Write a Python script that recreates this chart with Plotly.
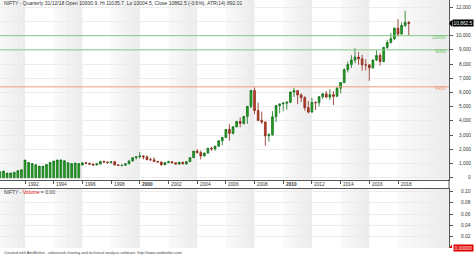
import plotly.graph_objects as go

# ---------------- data ----------------
# quarterly bars: (year, quarter)
start_year, start_q = 1990, 2
# early data (close only -> drawn from 0), 1990Q2 .. 1995Q4
early_close = [420, 470, 330, 340, 390, 500, 560, 1250, 1080, 1000, 920, 820,
               820, 930, 1080, 1180, 1250, 1260, 1200, 1060, 1000, 1040, 1000]
# full OHLC 1996Q1 .. 2018Q4
opens = [908, 1050, 1020, 960, 899, 964, 1155, 1108, 1079, 1130, 904, 872,
         884, 980, 1188, 1413, 1480, 1528, 1471, 1271, 1263, 1148, 1107, 913,
         1059, 1129, 1058, 964, 1093, 978, 1134, 1417, 1879, 1772, 1537, 1745,
         2080, 2035, 2221, 2601, 2837, 3403, 3128, 3588, 3966, 3822, 4318, 5021,
         6138, 4734, 4040, 3921, 2959, 3021, 4291, 5084, 5201, 5249, 5312, 6030,
         6134, 5834, 5647, 4943, 4624, 5296, 5279, 5703, 5905, 5682, 5842, 5735,
         6304, 6704, 7611, 7965, 8283, 8491, 8368, 7949, 7946, 7738, 8288, 8611,
         8186, 9174, 9521, 9789, 10531, 10114, 10714, 10930.9]
highs = [1080, 1140, 1060, 990, 1060, 1160, 1200, 1140, 1170, 1190, 950, 920,
         1040, 1200, 1420, 1490, 1818, 1600, 1580, 1420, 1440, 1190, 1140, 1110,
         1200, 1170, 1070, 1100, 1120, 1150, 1430, 1890, 2014, 1920, 1760, 2090,
         2180, 2230, 2620, 2850, 3430, 3775, 3600, 4000, 4250, 4350, 5060, 6185,
         6357, 5300, 4650, 3960, 3150, 4690, 5090, 5220, 5330, 5400, 6075, 6338,
         6180, 5945, 5740, 5400, 5630, 5380, 5735, 5965, 6111, 6230, 6093, 6415,
         6730, 7700, 8180, 8627, 9119, 8845, 8655, 8336, 7973, 8308, 8969, 8806,
         9219, 9710, 10179, 10553, 11172, 10929, 11760, 11035.7]
lows = [860, 1000, 940, 860, 880, 950, 1080, 980, 1000, 890, 830, 800,
        870, 960, 1150, 1290, 1350, 1290, 1250, 1200, 1100, 1080, 850, 905,
        1040, 1040, 940, 920, 960, 920, 1120, 1400, 1700, 1290, 1500, 1700,
        1900, 1900, 2200, 2300, 2800, 2600, 3050, 3550, 3550, 3750, 3800, 4900,
        4470, 3990, 3790, 2252, 2540, 2970, 3920, 4540, 4675, 4790, 5250, 5690,
        5178, 5330, 4720, 4530, 4590, 4770, 5030, 5550, 5600, 5480, 5118, 5700,
        5933, 6650, 7422, 7724, 8065, 7940, 7540, 7551, 6826, 7678, 8200, 7894,
        8134, 9075, 9449, 9687, 9952, 10111, 10604, 10004.5]
closes = [1050, 1020, 960, 899, 964, 1155, 1108, 1079, 1130, 904, 872, 884,
          980, 1188, 1413, 1480, 1528, 1471, 1271, 1263, 1148, 1107, 913, 1059,
          1129, 1058, 964, 1093, 978, 1134, 1417, 1879, 1772, 1537, 1745, 2080,
          2035, 2221, 2601, 2837, 3403, 3128, 3588, 3966, 3822, 4318, 5021, 6138,
          4734, 4040, 3921, 2959, 3021, 4291, 5084, 5201, 5249, 5312, 6030, 6134,
          5834, 5647, 4943, 4624, 5296, 5279, 5703, 5905, 5682, 5842, 5735, 6304,
          6704, 7611, 7965, 8283, 8491, 8368, 7949, 7946, 7738, 8288, 8611, 8186,
          9174, 9521, 9789, 10531, 10114, 10714, 10930, 10862.5]
levels = [10000, 9000, 6400]
level_labels = ["10000", "9000", "6400"]
price_ticks = [0, 1000, 2000, 3000, 4000, 5000, 6000, 7000, 8000, 9000, 10000, 12000]
vol_ticks = [0.02, 0.04, 0.06, 0.08, 0.10]
year_ticks = list(range(1992, 2019, 2))
shade_years = [(1990, 1992), (1994, 1996), (1998, 2000), (2002, 2004),
               (2006, 2008), (2010, 2012), (2014, 2016), (2018, 2022)]

# ---------------- build series ----------------
all_open = [0] * len(early_close) + opens
all_high = early_close + highs
all_low = [0] * len(early_close) + lows
all_close = early_close + closes
xs = []
y, q = start_year, start_q
for _ in all_close:
    xs.append(y + (q - 1) / 4)
    q += 1
    if q > 4:
        q = 1
        y += 1

W, H = 474, 256
PW, PH = 449, 248  # plot area
XR = [1990.257, 2021.555]
def py(p):  # pixel -> paper y
    return 1 - p / PH

main_dom = [py(179.5), 1]
low_dom = [0, py(188.5)]

fig = go.Figure()
fig.add_trace(go.Candlestick(
    x=xs, open=all_open, high=all_high, low=all_low, close=all_close,
    increasing=dict(fillcolor="#22a622", line=dict(color="#15701a", width=0.8)),
    decreasing=dict(fillcolor="#c2412a", line=dict(color="#8a2a1a", width=0.8)),
    whiskerwidth=0, xaxis="x", yaxis="y", showlegend=False, hoverinfo="skip"))
fig.add_trace(go.Scatter(x=[XR[0]], y=[0], xaxis="x2", yaxis="y2", mode="markers",
                         marker=dict(size=0.1, color="rgba(0,0,0,0)"), showlegend=False,
                         hoverinfo="skip"))

shapes = []
# shaded year bands (gradient light -> darker)
steps = 8
for a, b in shade_years:
    for i in range(steps):
        x0 = a + (b - a) * i / steps
        x1 = a + (b - a) * (i + 1) / steps
        g = int(249 - (249 - 236) * i / (steps - 1))
        col = f"rgb({g},{g},{g})"
        for yr in ("y domain", "y2 domain"):
            shapes.append(dict(type="rect", xref="x", yref=yr, x0=x0, x1=x1, y0=0, y1=1,
                               fillcolor=col, line=dict(width=0), layer="below"))
# level lines
level_cols = ["#86c986", "#86c986", "#f29a80"]
for lv, c in zip(levels, level_cols):
    shapes.append(dict(type="line", xref="paper", yref="y", x0=0, x1=1, y0=lv, y1=lv,
                       line=dict(color=c, width=1)))
# axis connector across the date band
shapes.append(dict(type="line", xref="paper", yref="paper", x0=1, x1=1,
                   y0=low_dom[1], y1=main_dom[0], line=dict(color="#555", width=1)))
# price pointer triangle
ppu = (12510 + 120) / 179.5
shapes.append(dict(type="path", xref="paper", yref="y",
                   path=f"M 1,{10862.5} L {1 + 3 / PW},{10862.5 + 3.5 * ppu} L {1 + 3 / PW},{10862.5 - 3.5 * ppu} Z",
                   fillcolor="black", line=dict(width=0)))
vpu = 0.1054 / 59.5
shapes.append(dict(type="path", xref="paper", yref="y2",
                   path=f"M 1,0 L {1 + 3 / PW},{3.5 * vpu} L {1 + 3 / PW},{-3.5 * vpu} Z",
                   fillcolor="#e00000", line=dict(width=0)))

ann = []
FONT = "Liberation Sans, Arial, sans-serif"
for t in price_ticks:
    ann.append(dict(xref="paper", yref="y", x=473 / PW, y=t, xanchor="right", yanchor="middle",
                    text=f"{t:,}", showarrow=False, font=dict(size=4.8, color="#333", family=FONT)))
for t in vol_ticks:
    ann.append(dict(xref="paper", yref="y2", x=473 / PW, y=t, xanchor="right", yanchor="middle",
                    text=f"{t:.2f}", showarrow=False, font=dict(size=4.8, color="#333", family=FONT)))
for lv, lab, c in zip(levels, level_labels, ["#6cbf6c", "#6cbf6c", "#ee9a74"]):
    ann.append(dict(xref="paper", yref="y", x=448 / PW, y=lv, yshift=-1.5, xanchor="right",
                    yanchor="middle", text=lab, showarrow=False,
                    font=dict(size=4.8, color=c, family=FONT)))
ann.append(dict(xref="paper", yref="y", x=474 / PW, y=10862.5, xanchor="right", yanchor="middle",
                text="10,862.5", showarrow=False, bgcolor="black", borderpad=0.6,
                font=dict(size=4.8, color="white", family=FONT)))
ann.append(dict(xref="paper", yref="y2", x=474 / PW, y=0, xanchor="right", yanchor="middle",
                text="0.00000", showarrow=False, bgcolor="#e00000", borderpad=0.6,
                font=dict(size=4.8, color="white", family=FONT)))
for yv in year_ticks:
    txt = f"<b>{yv}</b>" if yv in (2000, 2010) else str(yv)
    ann.append(dict(xref="x", yref="paper", x=yv, xshift=0.5, y=py(184.5), xanchor="left",
                    yanchor="middle", text=txt, showarrow=False,
                    font=dict(size=4.8, color="#333", family=FONT)))
ann.append(dict(xref="paper", yref="paper", x=2 / PW, y=py(3.2), xanchor="left", yanchor="middle",
                text="NIFTY - Quarterly 31/12/18 Open 10930.9, Hi 11035.7, Lo 10004.5, Close 10862.5 (-0.6%), ATR(14) 892.01",
                showarrow=False, font=dict(size=5, color="#333", family=FONT)))
ann.append(dict(xref="paper", yref="paper", x=2 / PW, y=py(192), xanchor="left", yanchor="middle",
                text="NIFTY - <span style='color:#e00000'>Volume</span> = 0.00",
                showarrow=False, font=dict(size=5, color="#333", family=FONT)))
ann.append(dict(xref="paper", yref="paper", x=2 / PW, y=py(252.5), xanchor="left", yanchor="middle",
                text="Created with AmiBroker - advanced charting and technical analysis software. http://www.amibroker.com",
                showarrow=False, font=dict(size=3.9, color="#444", family=FONT)))

fig.update_layout(
    width=W, height=H, margin=dict(l=0, r=W - PW, t=0, b=H - PH),
    paper_bgcolor="white", plot_bgcolor="white",
    shapes=shapes, annotations=ann, showlegend=False,
    xaxis=dict(domain=[0, 1], range=XR, anchor="y", showline=True, linecolor="#555", linewidth=1,
               ticks="outside", ticklen=3, tickcolor="#555", tickvals=year_ticks,
               showticklabels=False, showgrid=False, zeroline=False,
               rangeslider=dict(visible=False)),
    xaxis2=dict(domain=[0, 1], range=XR, anchor="y2", side="top", showline=True, linecolor="#555",
                linewidth=1, ticks="", showticklabels=False, showgrid=False, zeroline=False),
    yaxis=dict(domain=main_dom, range=[-120, 12510], side="right", showline=True, linecolor="#555",
               linewidth=1, ticks="outside", ticklen=3, tickcolor="#555",
               tickvals=price_ticks + [11000], showticklabels=False, showgrid=True,
               gridcolor="#ececec", gridwidth=0.6, zeroline=False),
    yaxis2=dict(domain=low_dom, range=[0, 0.1054], side="right", showline=True, linecolor="#555",
                linewidth=1, ticks="outside", ticklen=3, tickcolor="#555", tickvals=vol_ticks,
                showticklabels=False, showgrid=True, gridcolor="#ececec", gridwidth=0.6,
                zeroline=False),
)
fig.write_html("out.html")
